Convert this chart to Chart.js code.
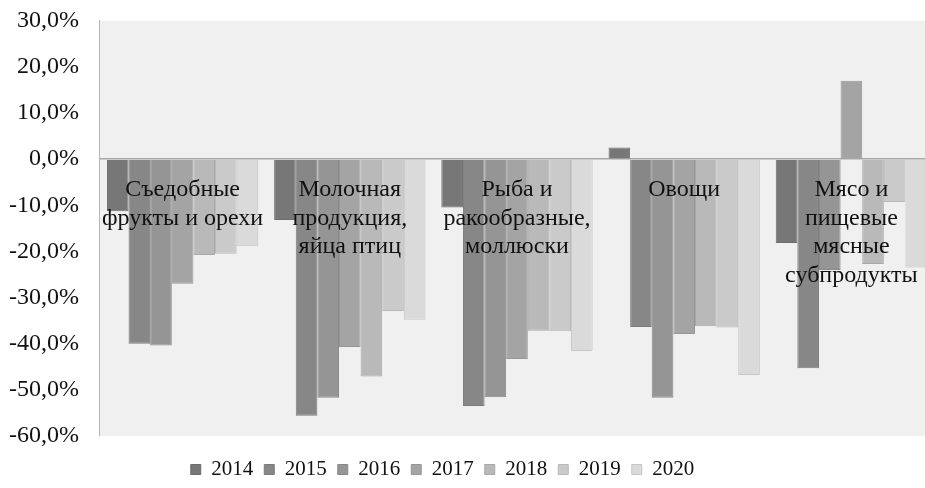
<!DOCTYPE html>
<html>
<head>
<meta charset="utf-8">
<script src="https://cdn.jsdelivr.net/npm/chart.js@4"></script>
<style>
    html, body { margin: 0; background: #ffffff; overflow: hidden; }
    #wrap { width: 925px; height: 488px; overflow: hidden; }
</style>
</head>
<body>
<div id="wrap"><canvas id="chart" width="935" height="488"></canvas></div>
<script>
// категории
const categories = [
    ['Съедобные', 'фрукты и орехи'],
    ['Молочная', 'продукция,', 'яйца птиц'],
    ['Рыба и', 'ракообразные,', 'моллюски'],
    ['Овощи'],
    ['Мясо и', 'пищевые', 'мясные', 'субпродукты']
];

const years = ['2014', '2015', '2016', '2017', '2018', '2019', '2020'];

// значения по годам, %
const v2014 = [-11.3, -13.2, -10.5, 2.5, -18.2];
const v2015 = [-40.0, -55.6, -53.5, -36.4, -45.3];
const v2016 = [-40.4, -51.7, -51.6, -51.7, -24.0];
const v2017 = [-27.0, -40.7, -43.3, -37.9, 17.0];
const v2018 = [-20.8, -47.1, -37.2, -36.2, -22.7];
const v2019 = [-20.5, -32.9, -37.3, -36.5, -9.3];
const v2020 = [-18.9, -34.8, -41.6, -46.8, -23.5];

const yTicks = [30, 20, 10, 0, -10, -20, -30, -40, -50, -60];

const fills = ['#777777', '#878787', '#959595', '#a4a4a4', '#b9b9b9', '#cacaca', '#dadada'];
const edges = ['#6c6c6c', '#7b7b7b', '#888888', '#969696', '#a9a9a9', '#b9b9b9', '#c6c6c6'];

const series = [v2014, v2015, v2016, v2017, v2018, v2019, v2020];

const serif = '"Liberation Serif", "Times New Roman", serif';
Chart.defaults.font.family = serif;
Chart.defaults.font.size = 21;
Chart.defaults.color = '#111111';

// фон области построения
const plotBackground = {
    id: 'plotBackground',
    beforeDraw(chart) {
        const a = chart.chartArea;
        const ctx = chart.ctx;
        ctx.save();
        ctx.fillStyle = '#f0f0f0';
        ctx.fillRect(a.left, a.top, a.right - a.left, a.bottom - a.top);
        ctx.restore();
    }
};

// подписи категорий под нулевой линией, поверх столбцов
const categoryLabels = {
    id: 'categoryLabels',
    afterDatasetsDraw(chart) {
        const ctx = chart.ctx;
        const x = chart.scales.x;
        const y0 = chart.scales.y.getPixelForValue(0);
        ctx.save();
        ctx.font = '24px ' + serif;
        ctx.fillStyle = '#111111';
        ctx.textAlign = 'center';
        ctx.textBaseline = 'middle';
        categories.forEach((lines, i) => {
            const cx = x.getPixelForValue(i);
            lines.forEach((line, k) => {
                ctx.fillText(line, cx, y0 + 31 + k * 28.5);
            });
        });
        ctx.restore();
    }
};

new Chart(document.getElementById('chart'), {
    type: 'bar',
    data: {
        labels: categories.map(c => c.join(' ')),
        datasets: years.map((yr, i) => ({
            label: yr,
            data: series[i],
            backgroundColor: fills[i],
            borderColor: edges[i],
            borderWidth: 1,
            categoryPercentage: 0.905,
            barPercentage: 1.0
        }))
    },
    options: {
        responsive: false,
        animation: false,
        layout: { padding: { left: -50, right: 0, top: 20.7, bottom: -2 } },
        plugins: {
            legend: {
                position: 'bottom',
                labels: {
                    boxWidth: 10,
                    boxHeight: 10,
                    padding: 11,
                    color: '#111111',
                    font: { size: 21 }
                }
            },
            tooltip: { enabled: false }
        },
        scales: {
            x: {
                display: true,
                ticks: { display: false },
                grid: { display: false },
                border: { display: false },
                afterFit(scale) {
                    scale.height = 12;
                }
            },
            y: {
                min: -60,
                max: 30,
                afterBuildTicks(scale) {
                    scale.ticks = yTicks.map(v => ({ value: v }));
                },
                afterFit(scale) {
                    scale.width = 149;
                },
                ticks: {
                    padding: 20,
                    color: '#111111',
                    font: { size: 24, lineHeight: 0.01 },
                    callback: v => v.toFixed(1).replace('.', ',') + '%'
                },
                grid: {
                    drawTicks: false,
                    color: ctx => ctx.tick && ctx.tick.value === 0 ? '#a8a8a8' : 'rgba(0,0,0,0)',
                    lineWidth: 1.5
                },
                border: { display: true, color: '#b5b5b5', width: 1 }
            }
        }
    },
    plugins: [plotBackground, categoryLabels]
});
</script>
</body>
</html>
